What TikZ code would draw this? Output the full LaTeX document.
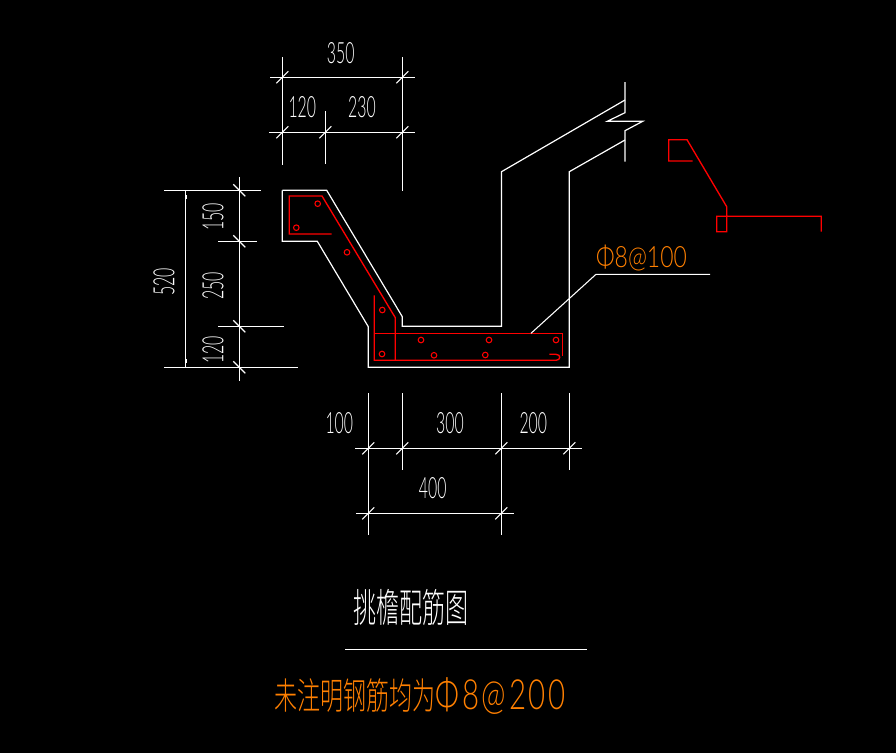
\documentclass[tikz,border=0pt]{standalone}
\usepackage{fontspec}
\usepackage{tikz}
\setsansfont{Lato Light}
\newfontfamily\cjkfont{Noto Sans CJK SC Light}
\begin{document}
\begin{tikzpicture}[x=0.75pt,y=-0.75pt,
    wall/.style={white,line width=0.9pt},
    thinline/.style={white,line width=0.8pt},
    rebar/.style={red,line width=1pt},
    dimtext/.style={white,inner sep=0pt,xscale=0.54,font=\sffamily\fontsize{22}{22}\selectfont},
    titletext/.style={white,inner sep=0pt,xscale=0.64,yscale=1.1,font=\cjkfont\fontsize{27}{27}\selectfont},
    notetext/.style={inner sep=0pt,text=noteorange,font=\fontsize{24}{24}\selectfont}]
    \definecolor{noteorange}{RGB}{255,128,0}
    \fill[black] (0,0) rectangle (896,753);
    \useasboundingbox (0,0) rectangle (896,753);

    \draw[wall] (282.3,190.3) -- (326.7,190.3) -- (402.3,316.7) -- (402.3,326.3) -- (501.5,326.3) -- (501.5,171.7) -- (625,100);
    \draw[wall] (625,82) -- (625,112.7) -- (607.3,121.3) -- (642.7,121.3) -- (625,130.7) -- (625,161.7);
    \draw[wall] (625,140) -- (569.3,171.7) -- (569.3,367.3) -- (368.3,367.3) -- (368.3,326.7) -- (317.3,241.3) -- (282.3,241.3) -- (282.3,190.3);

    \draw[rebar] (331.7,234) -- (289.3,234) -- (289.3,196) -- (322,196) -- (395.3,317.7) -- (395.3,360.3);
    \draw[rebar] (374.3,295.3) -- (374.3,360.3) -- (556,360.3) .. controls (561,360.3) and (561,354.3) .. (556,354.3) -- (549.3,354.3);
    \draw[rebar] (374.3,333.3) -- (562.3,333.3) -- (562.3,356);
    \foreach \x/\y in {317.7/203.7,296.3/227.7,347/252.3,382.3/310,382/354,421/340,489/340,556/340,434/355.3,485.3/355}
        \draw[red,line width=0.8pt] (\x,\y) circle (2.8);

    \draw[rebar] (692.7,161) -- (668.7,161) -- (668.7,139.7) -- (687,139.7) -- (726.7,206.7) -- (726.7,231.7) -- (716.7,231.7) -- (716.7,216.3) -- (821.3,216.3) -- (821.3,231.7);

    \draw[thinline] (282.3,57.3) -- (282.3,165);
    \draw[thinline] (402.3,57.3) -- (402.3,190.7);
    \draw[thinline] (325.3,111) -- (325.3,164);
    \draw[thinline] (270,77.3) -- (415,77.3);
    \draw[thinline] (269,132.3) -- (415,132.3);

    \draw[thinline] (185.3,190.3) -- (185.3,367.3);
    \draw[thinline] (164,190.3) -- (260.7,190.3);
    \draw[thinline] (164,367.3) -- (297.7,367.3);
    \draw[thinline] (239.3,177.3) -- (239.3,380.7);
    \draw[thinline] (218.3,241.3) -- (256.7,241.3);
    \draw[thinline] (218.3,326.3) -- (284,326.3);
    \fill[white] (185,195) rectangle (187.3,198.5);
    \fill[white] (185,359) rectangle (187.3,362.5);

    \draw[thinline] (368.3,393.3) -- (368.3,535);
    \draw[thinline] (402.3,393.3) -- (402.3,469.7);
    \draw[thinline] (501.3,393.3) -- (501.3,535);
    \draw[thinline] (569.3,393.3) -- (569.3,469.7);
    \draw[thinline] (355,448.3) -- (582,448.3);
    \draw[thinline] (356,513.3) -- (514,513.3);

    \foreach \x/\y in {282.3/77.3,402.3/77.3,282.3/132.3,325.3/132.3,402.3/132.3,368.3/448.3,402.3/448.3,501.3/448.3,569.3/448.3,368.3/513.3,501.3/513.3}
        \draw[thinline] (\x-6,\y+6) -- (\x+6,\y-6);
    \foreach \y in {190.3,241.3,326.3,367.3}
        \draw[thinline] (239.3-6,\y-6) -- (239.3+6,\y+6);

    \node[dimtext] (top350) at (340.7,52.7) {350};
    \node[dimtext] (top120) at (302.3,106.7) {120};
    \node[dimtext] (top230) at (362,106.7) {230};
    \node[rotate=90,dimtext] (left520) at (164,281.7) {520};
    \node[rotate=90,dimtext] (left150) at (213,216.7) {150};
    \node[rotate=90,dimtext] (left250) at (213,286) {250};
    \node[rotate=90,dimtext] (left120) at (213,350) {120};
    \node[dimtext] (low100) at (339.3,422.7) {100};
    \node[dimtext] (low300) at (450,422.7) {300};
    \node[dimtext] (low200) at (533.3,422.7) {200};
    \node[dimtext] (low400) at (432.7,487.7) {400};

    \coordinate (leadstart) at (531,333.3);
    \node[inner sep=0pt] (leadtext) at (641.5,258) {\color{noteorange}\sffamily\fontsize{22}{22}\selectfont\scalebox{0.78}[1]{Φ8@100}};
    \coordinate (leadknee) at (596,274.3);
    \coordinate (leadend) at (710,274.3);
    \draw[thinline] (leadstart) -- (leadknee) -- (leadend);

    \node[titletext] (title) at (411,608) {挑檐配筋图};
    \coordinate (titleleft) at (345,649.3);
    \coordinate (titleright) at (586.7,649.3);
    \draw[thinline] (titleleft) -- (titleright);
    \node[notetext] (note) at (420,696) {\scalebox{0.72}[1.15]{\cjkfont 未注明钢筋均为}\sffamily\addfontfeature{LetterSpace=9}\scalebox{0.92}[1.3]{Φ8@200}};
\end{tikzpicture}
\end{document}
